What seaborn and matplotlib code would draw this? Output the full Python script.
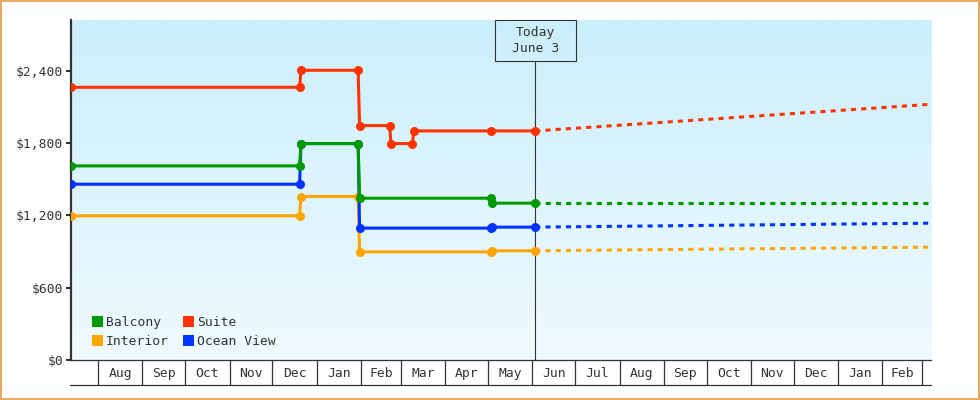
import numpy as np
import pandas as pd
import matplotlib
matplotlib.use("Agg")
import matplotlib.pyplot as plt
import matplotlib.dates as mdates
from matplotlib.colors import LinearSegmentedColormap
from matplotlib.patches import Patch, Rectangle
from matplotlib.lines import Line2D
import seaborn as sns

# ---------------- data ----------------
series_names = ["Balcony", "Suite", "Interior", "Ocean View"]
colors = {"Balcony": "#009900", "Suite": "#ff3300", "Interior": "#ffa500", "Ocean View": "#0033ff"}

suite_dates = ["2017-07-13", "2017-12-20", "2017-12-21", "2018-01-30", "2018-01-31",
               "2018-02-21", "2018-02-22", "2018-03-09", "2018-03-10", "2018-05-03", "2018-06-03"]
suite_prices = [2262, 2262, 2403, 2403, 1944, 1944, 1795, 1795, 1900, 1900, 1900]

balcony_dates = ["2017-07-13", "2017-12-20", "2017-12-21", "2018-01-30", "2018-01-31",
                 "2018-05-03", "2018-05-04", "2018-06-03"]
balcony_prices = [1610, 1610, 1795, 1795, 1342, 1342, 1301, 1301]

ocean_dates = ["2017-07-13", "2017-12-20", "2017-12-21", "2018-01-30", "2018-01-31",
               "2018-05-03", "2018-05-04", "2018-06-03"]
ocean_prices = [1458, 1458, 1795, 1795, 1094, 1094, 1102, 1102]

interior_dates = ["2017-07-13", "2017-12-20", "2017-12-21", "2018-01-30", "2018-01-31",
                  "2018-05-03", "2018-05-04", "2018-06-03"]
interior_prices = [1196, 1196, 1356, 1356, 897, 897, 906, 906]

today = "2018-06-03"
forecast_end = "2019-03-07"
forecast_end_prices = {"Suite": 2121, "Balcony": 1301, "Ocean View": 1135, "Interior": 936}

y_ticks = [0, 600, 1200, 1800, 2400]
y_tick_labels = ["$0", "$600", "$1,200", "$1,800", "$2,400"]
x_start, x_end = "2017-07-13", "2019-03-07"
y_max = 2820

history = {
    "Suite": (suite_dates, suite_prices),
    "Balcony": (balcony_dates, balcony_prices),
    "Ocean View": (ocean_dates, ocean_prices),
    "Interior": (interior_dates, interior_prices),
}

# ---------------- style ----------------
sns.set_style("white")
plt.rcParams["font.family"] = ["DejaVu Sans Mono", "DejaVu Sans"]
TXT = "#333333"
FS = 9.4

fig = plt.figure(figsize=(9.8, 4.0), dpi=100)
fig.patch.set_facecolor("white")
fig.patch.set_edgecolor("#e8a862")
fig.patch.set_linewidth(1.6)

L, R, T, B = 71 / 980, 931 / 980, 20 / 400, 360 / 400
pos = [L, 1 - B, R - L, B - T]

# gradient background axes
bg = fig.add_axes(pos, zorder=0)
cmap = LinearSegmentedColormap.from_list("bg", ["#f0faff", "#cbeffc"])
bg.imshow(np.linspace(0, 1, 256).reshape(-1, 1), cmap=cmap, origin="lower",
          aspect="auto", extent=[0, 1, 0, 1])
bg.axis("off")

ax = fig.add_axes(pos, zorder=1)
ax.set_facecolor("none")

lw = 2.2
dash = (0, (1.67, 1.67))
for name in ["Interior", "Ocean View", "Balcony", "Suite"]:
    d, p = history[name]
    df = pd.DataFrame({"date": pd.to_datetime(d), "price": p})
    sns.lineplot(data=df, x="date", y="price", color=colors[name], lw=lw,
                 marker="o", markersize=6.5, markeredgewidth=0, estimator=None,
                 sort=False, ax=ax, zorder=3)
    fdf = pd.DataFrame({"date": pd.to_datetime([today, forecast_end]),
                        "price": [p[-1], forecast_end_prices[name]]})
    sns.lineplot(data=fdf, x="date", y="price", color=colors[name], lw=lw,
                 linestyle=dash, estimator=None, sort=False, ax=ax, zorder=3)

xmin, xmax = pd.Timestamp(x_start), pd.Timestamp(x_end)
ax.set_xlim(xmin, xmax)
ax.set_ylim(0, y_max)
ax.set_xlabel("")
ax.set_ylabel("")

# y axis
ax.set_yticks(y_ticks)
ax.set_yticklabels(y_tick_labels)
ax.tick_params(axis="y", left=True, direction="out", length=3.6, width=1.5, color=TXT,
               labelsize=FS, labelcolor=TXT, pad=2)

# x axis: month boxes
bounds = pd.date_range("2017-08-01", "2019-03-01", freq="MS")
mids = [a + (b - a) / 2 for a, b in zip(bounds[:-1], bounds[1:])]
ax.set_xticks(mids)
ax.set_xticklabels([m.strftime("%b") for m in mids])
ax.set_xticks(bounds, minor=True)
ax.tick_params(axis="x", which="major", bottom=True, length=0, labelsize=FS,
               labelcolor=TXT, pad=5)
ax.tick_params(axis="x", which="minor", bottom=True, direction="out", length=18,
               width=0.9, color=TXT)

for s in ["top", "right"]:
    ax.spines[s].set_visible(False)
ax.spines["left"].set_color(TXT)
ax.spines["left"].set_linewidth(1.6)
ax.spines["bottom"].set_color(TXT)
ax.spines["bottom"].set_linewidth(0.9)
ax.grid(False)

ax.add_line(Line2D([-0.001, 1.0], [-25 / 340, -25 / 340], transform=ax.transAxes,
                   color=TXT, lw=0.9, clip_on=False))

# today marker
tnum = mdates.date2num(pd.Timestamp(today))
xf = (tnum - mdates.date2num(xmin)) / (mdates.date2num(xmax) - mdates.date2num(xmin))
box_h = 40.7 / 340
ax.axvline(pd.Timestamp(today), ymin=0, ymax=1 - box_h, color=TXT, lw=0.8, zorder=2)
bw = 80.7 / 860
ax.add_patch(Rectangle((xf - bw / 2, 1 - box_h), bw, box_h, transform=ax.transAxes,
                       fc="none", ec=TXT, lw=0.8, clip_on=False, zorder=4))
ax.text(xf, 1 - box_h / 2, "Today\nJune 3", transform=ax.transAxes, ha="center",
        va="center", fontsize=FS, color=TXT, linespacing=1.3, zorder=5)

# legend
order = ["Balcony", "Interior", "Suite", "Ocean View"]
handles = [Patch(facecolor=colors[n], edgecolor="none", label=n) for n in order]
ax.legend(handles=handles, ncol=2, loc="lower left",
          bbox_to_anchor=((92 - 71) / 860, (360 - 348) / 340), frameon=False,
          borderpad=0, borderaxespad=0, handlelength=0.85, handleheight=0.85,
          handletextpad=0.2, columnspacing=1.1, labelspacing=0.45,
          prop={"size": FS}, labelcolor=TXT)

fig.savefig("out.png", dpi=100)
